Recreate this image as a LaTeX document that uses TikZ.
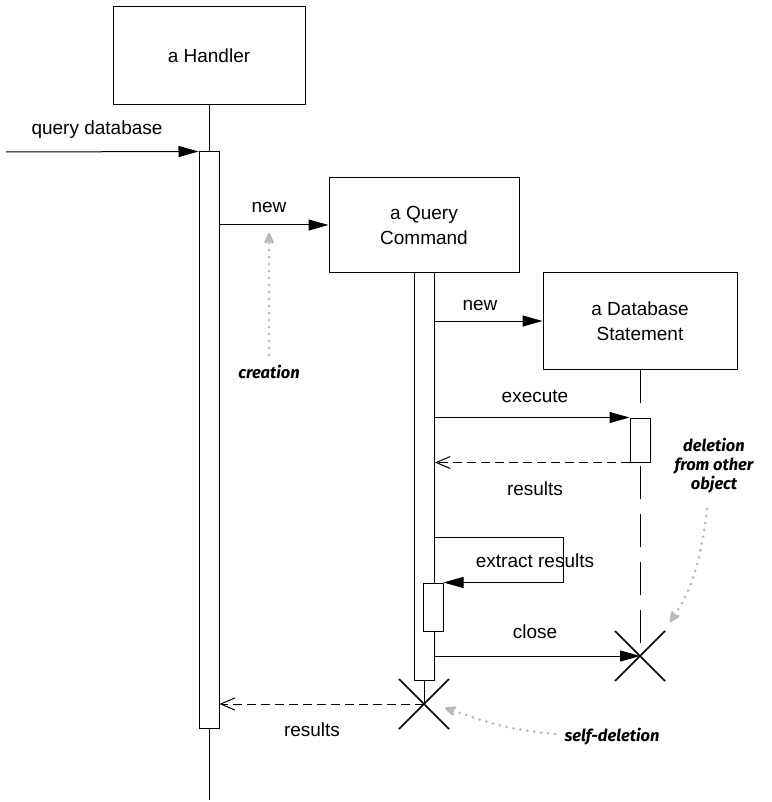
\documentclass[tikz,border=0pt]{standalone}
\usepackage{fontspec}
\setmainfont{Liberation Sans}
\newfontfamily\notefont{Fira Sans}
\usetikzlibrary{arrows.meta}
\begin{document}
\begin{tikzpicture}[x=1pt,y=-1pt,line join=miter,font=\fontsize{19}{25}\selectfont,
		objbox/.style={draw,line width=1pt,align=center,inner sep=0pt},
		actbar/.style={draw,line width=1pt,fill=white,minimum width=20pt,inner sep=0pt},
		life/.style={line width=1pt},
		call/.style={line width=1pt,-{Triangle[length=20pt,width=11pt]}},
		reply/.style={line width=1pt,dash pattern=on 9pt off 5pt,-{Straight Barb[length=14pt,width=12pt]}},
		kill/.style={line width=1.6pt},
		note/.style={gray!55,line width=3pt,line cap=round,dash pattern=on 0pt off 7pt,-{Stealth[length=15pt,width=13pt,round]}},
		notetext/.style={font=\notefont\bfseries\itshape\fontsize{16.5}{19}\selectfont,align=center}]
	\useasboundingbox (0,0) rectangle (771,802);
	% objects
	\node [objbox,minimum width=192pt,minimum height=98pt] (handler) at (209,56) {a Handler};
	\node [objbox,minimum width=190pt,minimum height=94pt] (query) at (424,225) {a Query\\Command};
	\node [objbox,minimum width=194pt,minimum height=97pt] (stmt) at (640,321) {a Database\\Statement};
	\coordinate (qx) at (424,704);
	\coordinate (sx) at (640,656);
	\coordinate (caller) at (6,152);
	\coordinate (hend) at (209,800);
	\coordinate (loop) at (563,537);
	% lifelines
	\draw [life] (handler.south) -- (209,152) (209,728) -- (hend);
	\draw [life] (query.south) -- (qx);
	\draw [life,dash pattern=on 33pt off 15pt] (stmt.south) -- (sx);
	% activations
	\node [actbar,minimum height=576pt] (hact) at (209,440) {};
	\node [actbar,minimum height=408pt] (qact) at (424.5,476) {};
	\node [actbar,minimum height=44pt] (sact) at (640,440) {};
	\node [actbar,minimum height=48pt] (qself) at (433,607) {};
	% messages
	\draw [call] (caller) -- (hact.north west);
	\node [anchor=base] at (97,135) {query database};
	\draw [call] (hact.east |- query.west) -- (query.west);
	\node [anchor=base] at (269,213) {new};
	\draw [call] (qact.east |- stmt.west) -- (stmt.west);
	\node [anchor=base] at (480,310) {new};
	\draw [call] (qact.east |- sact.north) -- (sact.north west);
	\node [anchor=base] at (535,402) {execute};
	\draw [reply] (sact.south west) -- (qact.east |- sact.south);
	\node [anchor=base] at (535,495) {results};
	\draw [call] (qact.east |- loop) -- (loop) |- (qself.north east);
	\node [anchor=base] at (535,567) {extract results};
	\draw [call] (qact.east |- sx) -- (sx);
	\node [anchor=base] at (535,638) {close};
	\draw [reply] (qx) -- (hact.east |- qx);
	\node [anchor=base] at (312,736) {results};
	% deletions
	\draw [kill] (sx) +(-25,-25) -- +(25,25) (sx) +(-25,25) -- +(25,-25);
	\draw [kill] (qx) +(-25,-25) -- +(25,25) (qx) +(-25,25) -- +(25,-25);
	% notes
	\node [notetext,anchor=base] (creation) at (269,378) {creation};
	\draw [note] (creation.north) ++(0,-6) -- (269,233);
	\node [notetext] (delnote) at (714,466) {deletion\\from other\\object};
	\draw [note] (delnote.south) ++(-7,12) .. controls (700,570) and (688,595) .. (670,622);
	\node [notetext,anchor=base] (selfnote) at (612,741) {self-deletion};
	\draw [note] (selfnote.west) ++(-6,-2) .. controls (505,728) .. (445,708);
\end{tikzpicture}
\end{document}
